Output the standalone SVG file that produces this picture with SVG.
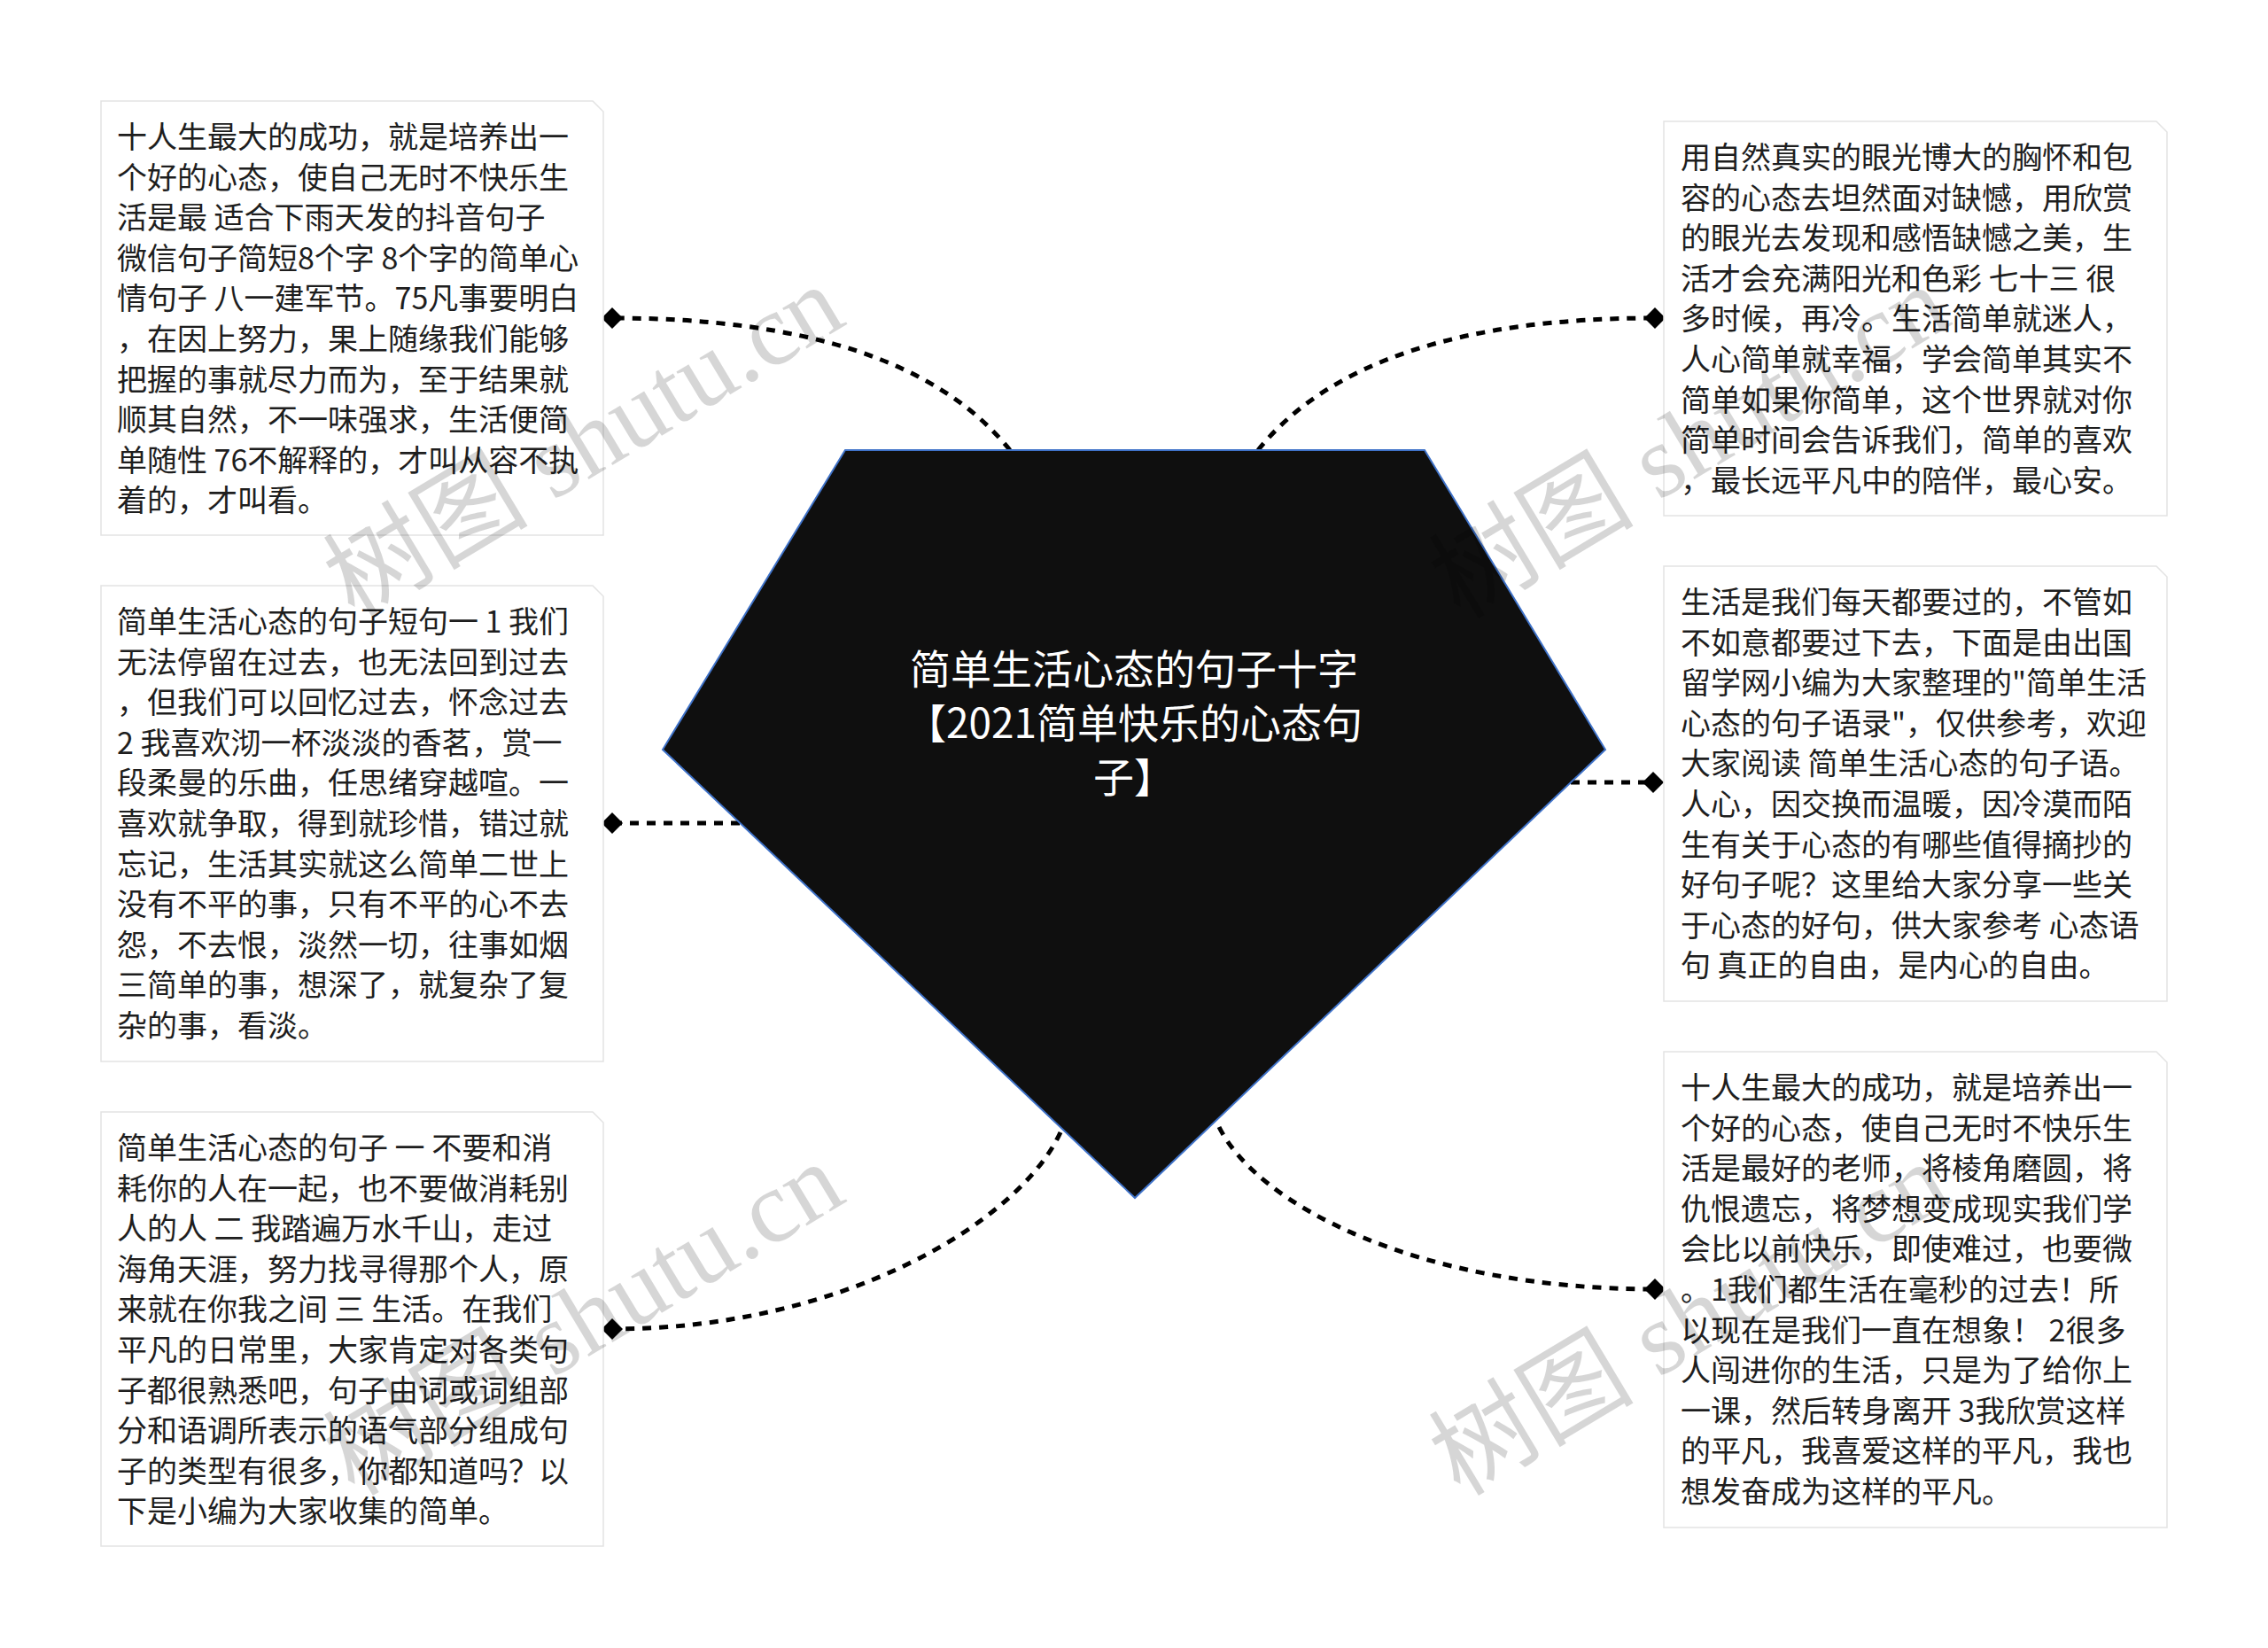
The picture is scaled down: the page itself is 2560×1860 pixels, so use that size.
<svg xmlns="http://www.w3.org/2000/svg" width="2560" height="1860" viewBox="0 0 2560 1860">
<defs>
<style>
.box{fill:#ffffff;stroke:#e3e3e3;stroke-width:1.5}
.t{font-family:"Noto Sans CJK SC","Noto Sans",sans-serif;font-size:34px;fill:#1e1e1e}
.ct{font-family:"Noto Sans CJK SC","Noto Sans",sans-serif;font-size:46px;fill:#ffffff;text-anchor:middle}
.link{fill:none;stroke:#000000;stroke-width:5;stroke-dasharray:10 9;marker-end:url(#dia)}
.wm{font-family:"Liberation Serif","Noto Sans CJK SC",serif;font-size:116px;fill:#000000;fill-opacity:0.16}
</style>
<marker id="dia" markerUnits="userSpaceOnUse" markerWidth="24" markerHeight="24" refX="12" refY="12" orient="auto">
<path d="M0,12 L12,0 L24,12 L12,24 Z" fill="#000000"/>
</marker>
</defs>
<rect width="2560" height="1860" fill="#ffffff"/>
<g id="connectors">
<path class="link" d="M1140,508 Q1020,359 691,359"/>
<path class="link" d="M835,929 L691,929"/>
<path class="link" d="M1197,1278 C1150,1380 950,1500 691,1500"/>
<path class="link" d="M1420,508 Q1540,359 1868,359"/>
<path class="link" d="M1773,883 L1866,883"/>
<path class="link" d="M1376,1272 C1420,1360 1600,1455 1868,1455"/>
</g>
<g id="center">
<polygon points="954,508 1608,508 1812,846 1281,1352 748,846" fill="#0f0f0f" stroke="#3f72c8" stroke-width="2"/>
<text class="ct"><tspan x="1280" y="772">简单生活心态的句子十字</tspan><tspan x="1280" y="833">【2021简单快乐的心态句</tspan><tspan x="1280" y="894">子】</tspan></text>
</g>
<g id="node-left-1">
<path class="box" d="M114,114 H669 L681,126 V604 H114 Z"/>
<text class="t"><tspan x="132" y="167">十人生最大的成功，就是培养出一</tspan><tspan x="132" y="212.6">个好的心态，使自己无时不快乐生</tspan><tspan x="132" y="258.2">活是最 适合下雨天发的抖音句子</tspan><tspan x="132" y="303.8">微信句子简短8个字 8个字的简单心</tspan><tspan x="132" y="349.4">情句子 八一建军节。75凡事要明白</tspan><tspan x="132" y="395">，在因上努力，果上随缘我们能够</tspan><tspan x="132" y="440.6">把握的事就尽力而为，至于结果就</tspan><tspan x="132" y="486.2">顺其自然，不一味强求，生活便简</tspan><tspan x="132" y="531.8">单随性 76不解释的，才叫从容不执</tspan><tspan x="132" y="577.4">着的，才叫看。</tspan></text>
</g>
<g id="node-left-2">
<path class="box" d="M114,661 H669 L681,673 V1198 H114 Z"/>
<text class="t"><tspan x="132" y="714">简单生活心态的句子短句一 1 我们</tspan><tspan x="132" y="759.6">无法停留在过去，也无法回到过去</tspan><tspan x="132" y="805.2">，但我们可以回忆过去，怀念过去</tspan><tspan x="132" y="850.8">2 我喜欢沏一杯淡淡的香茗，赏一</tspan><tspan x="132" y="896.4">段柔曼的乐曲，任思绪穿越喧。一</tspan><tspan x="132" y="942">喜欢就争取，得到就珍惜，错过就</tspan><tspan x="132" y="987.6">忘记，生活其实就这么简单二世上</tspan><tspan x="132" y="1033.2">没有不平的事，只有不平的心不去</tspan><tspan x="132" y="1078.8">怨，不去恨，淡然一切，往事如烟</tspan><tspan x="132" y="1124.4">三简单的事，想深了，就复杂了复</tspan><tspan x="132" y="1170">杂的事，看淡。</tspan></text>
</g>
<g id="node-left-3">
<path class="box" d="M114,1255 H669 L681,1267 V1745 H114 Z"/>
<text class="t"><tspan x="132" y="1308">简单生活心态的句子 一 不要和消</tspan><tspan x="132" y="1353.6">耗你的人在一起，也不要做消耗别</tspan><tspan x="132" y="1399.2">人的人 二 我踏遍万水千山，走过</tspan><tspan x="132" y="1444.8">海角天涯，努力找寻得那个人，原</tspan><tspan x="132" y="1490.4">来就在你我之间 三 生活。在我们</tspan><tspan x="132" y="1536">平凡的日常里，大家肯定对各类句</tspan><tspan x="132" y="1581.6">子都很熟悉吧，句子由词或词组部</tspan><tspan x="132" y="1627.2">分和语调所表示的语气部分组成句</tspan><tspan x="132" y="1672.8">子的类型有很多，你都知道吗？以</tspan><tspan x="132" y="1718.4">下是小编为大家收集的简单。</tspan></text>
</g>
<g id="node-right-1">
<path class="box" d="M1878,137 H2434 L2446,149 V582 H1878 Z"/>
<text class="t"><tspan x="1897" y="190">用自然真实的眼光博大的胸怀和包</tspan><tspan x="1897" y="235.6">容的心态去坦然面对缺憾，用欣赏</tspan><tspan x="1897" y="281.2">的眼光去发现和感悟缺憾之美，生</tspan><tspan x="1897" y="326.8">活才会充满阳光和色彩 七十三 很</tspan><tspan x="1897" y="372.4">多时候，再冷。生活简单就迷人，</tspan><tspan x="1897" y="418">人心简单就幸福，学会简单其实不</tspan><tspan x="1897" y="463.6">简单如果你简单，这个世界就对你</tspan><tspan x="1897" y="509.2">简单时间会告诉我们，简单的喜欢</tspan><tspan x="1897" y="554.8">，最长远平凡中的陪伴，最心安。</tspan></text>
</g>
<g id="node-right-2">
<path class="box" d="M1878,639 H2434 L2446,651 V1130 H1878 Z"/>
<text class="t"><tspan x="1897" y="692">生活是我们每天都要过的，不管如</tspan><tspan x="1897" y="737.6">不如意都要过下去，下面是由出国</tspan><tspan x="1897" y="783.2">留学网小编为大家整理的"简单生活</tspan><tspan x="1897" y="828.8">心态的句子语录"，仅供参考，欢迎</tspan><tspan x="1897" y="874.4">大家阅读 简单生活心态的句子语。</tspan><tspan x="1897" y="920">人心，因交换而温暖，因冷漠而陌</tspan><tspan x="1897" y="965.6">生有关于心态的有哪些值得摘抄的</tspan><tspan x="1897" y="1011.2">好句子呢？这里给大家分享一些关</tspan><tspan x="1897" y="1056.8">于心态的好句，供大家参考 心态语</tspan><tspan x="1897" y="1102.4">句 真正的自由，是内心的自由。</tspan></text>
</g>
<g id="node-right-3">
<path class="box" d="M1878,1187 H2434 L2446,1199 V1724 H1878 Z"/>
<text class="t"><tspan x="1897" y="1240">十人生最大的成功，就是培养出一</tspan><tspan x="1897" y="1285.6">个好的心态，使自己无时不快乐生</tspan><tspan x="1897" y="1331.2">活是最好的老师，将棱角磨圆，将</tspan><tspan x="1897" y="1376.8">仇恨遗忘，将梦想变成现实我们学</tspan><tspan x="1897" y="1422.4">会比以前快乐，即使难过，也要微</tspan><tspan x="1897" y="1468">。1我们都生活在毫秒的过去！所</tspan><tspan x="1897" y="1513.6">以现在是我们一直在想象！ 2很多</tspan><tspan x="1897" y="1559.2">人闯进你的生活，只是为了给你上</tspan><tspan x="1897" y="1604.8">一课，然后转身离开 3我欣赏这样</tspan><tspan x="1897" y="1650.4">的平凡，我喜爱这样的平凡，我也</tspan><tspan x="1897" y="1696">想发奋成为这样的平凡。</tspan></text>
</g>
<g id="watermarks">
<text class="wm" transform="translate(400,700) rotate(-31)">树图 shutu.cn</text>
<text class="wm" transform="translate(1648,700) rotate(-31)">树图 shutu.cn</text>
<text class="wm" transform="translate(400,1690) rotate(-31)">树图 shutu.cn</text>
<text class="wm" transform="translate(1648,1690) rotate(-31)">树图 shutu.cn</text>
</g>
</svg>
